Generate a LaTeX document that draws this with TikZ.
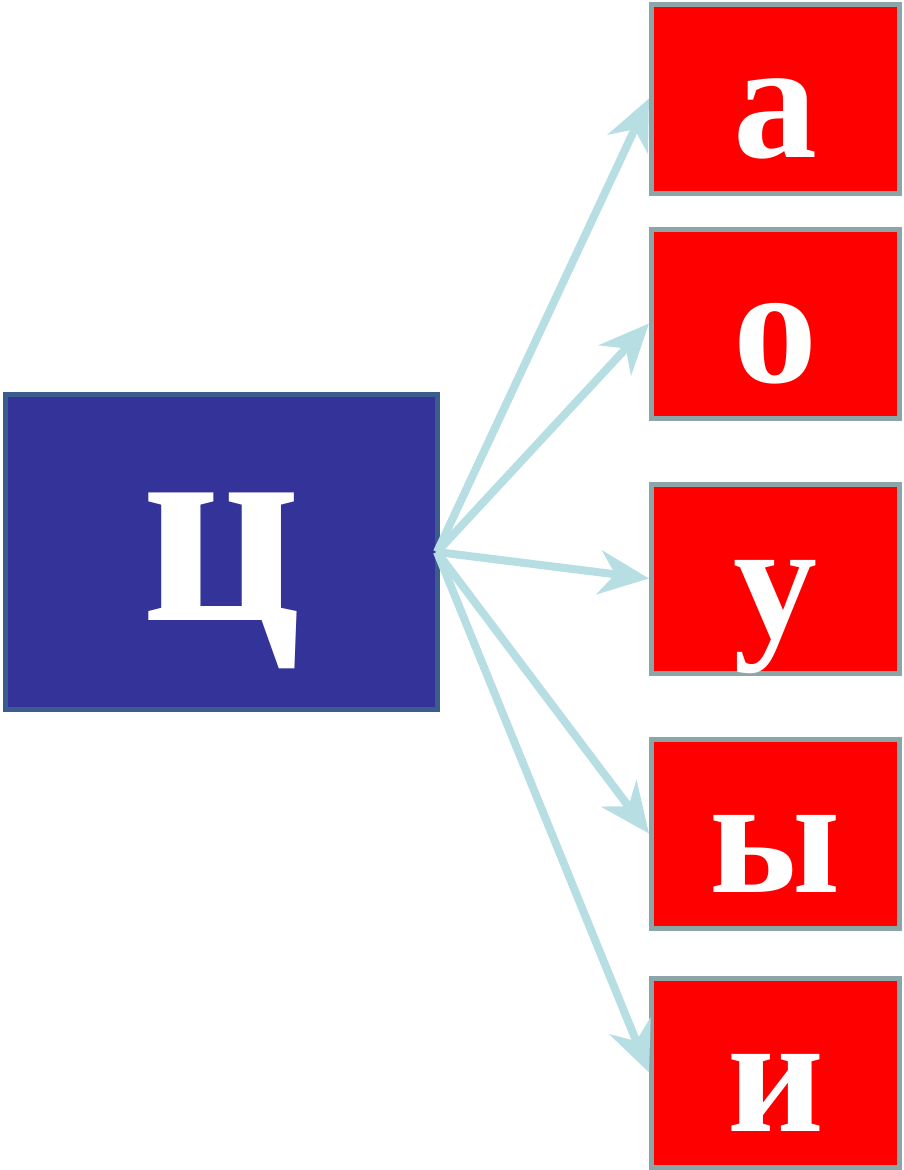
\documentclass[tikz,border=0pt]{standalone}
\usepackage{fontspec}
\newfontfamily\letterfont{Liberation Serif}[Script=Cyrillic]
\usetikzlibrary{arrows.meta}
\definecolor{srcfill}{RGB}{51,51,153}
\definecolor{srcborder}{RGB}{59,92,140}
\definecolor{tgtborder}{RGB}{139,166,168}
\definecolor{arrowc}{RGB}{183,223,227}
\tikzset{
  srcbox/.style={draw=srcborder, fill=srcfill, line width=5pt, minimum width=432pt, minimum height=315pt, inner sep=0pt},
  tgtbox/.style={draw=tgtborder, fill=red, line width=5pt, minimum width=248pt, minimum height=189pt, inner sep=0pt},
  letter/.style={text=white, font=\letterfont\bfseries\fontsize{168}{170}\selectfont, anchor=base, inner sep=0pt},
  bigletter/.style={text=white, font=\letterfont\bfseries\fontsize{278}{280}\selectfont, anchor=base, inner sep=0pt},
  conn/.style={draw=arrowc, line width=8pt, -{Stealth[length=50pt,width=44pt,inset=16pt]}}
}
\begin{document}
\begin{tikzpicture}[x=1pt,y=-1pt]
\useasboundingbox (0,0) rectangle (903,1170);
\node[srcbox] (src) at (221.5,552) {};
\node[tgtbox] (ta) at (775.5,98.5) {};
\node[tgtbox] (to) at (775.5,323.5) {};
\node[tgtbox] (tu) at (775.5,578.5) {};
\node[tgtbox] (ty) at (775.5,833.5) {};
\node[tgtbox] (ti) at (775.5,1072.5) {};
\node[bigletter] (lsrc) at (221.5,620) {ц};
\node[letter] (la) at (775.5,157.5) {а};
\node[letter] (lo) at (775.5,382.5) {о};
\node[letter] (lu) at (775.5,637.5) {у};
\node[letter] (ly) at (775.5,892.5) {ы};
\node[letter] (li) at (775.5,1131) {и};
\coordinate (start) at ([xshift=-3pt]src.east);
\draw[conn] (start) -- (ta.west);
\draw[conn] (start) -- (to.west);
\draw[conn] (start) -- (tu.west);
\draw[conn] (start) -- (ty.west);
\draw[conn] (start) -- (ti.west);
\end{tikzpicture}
\end{document}
